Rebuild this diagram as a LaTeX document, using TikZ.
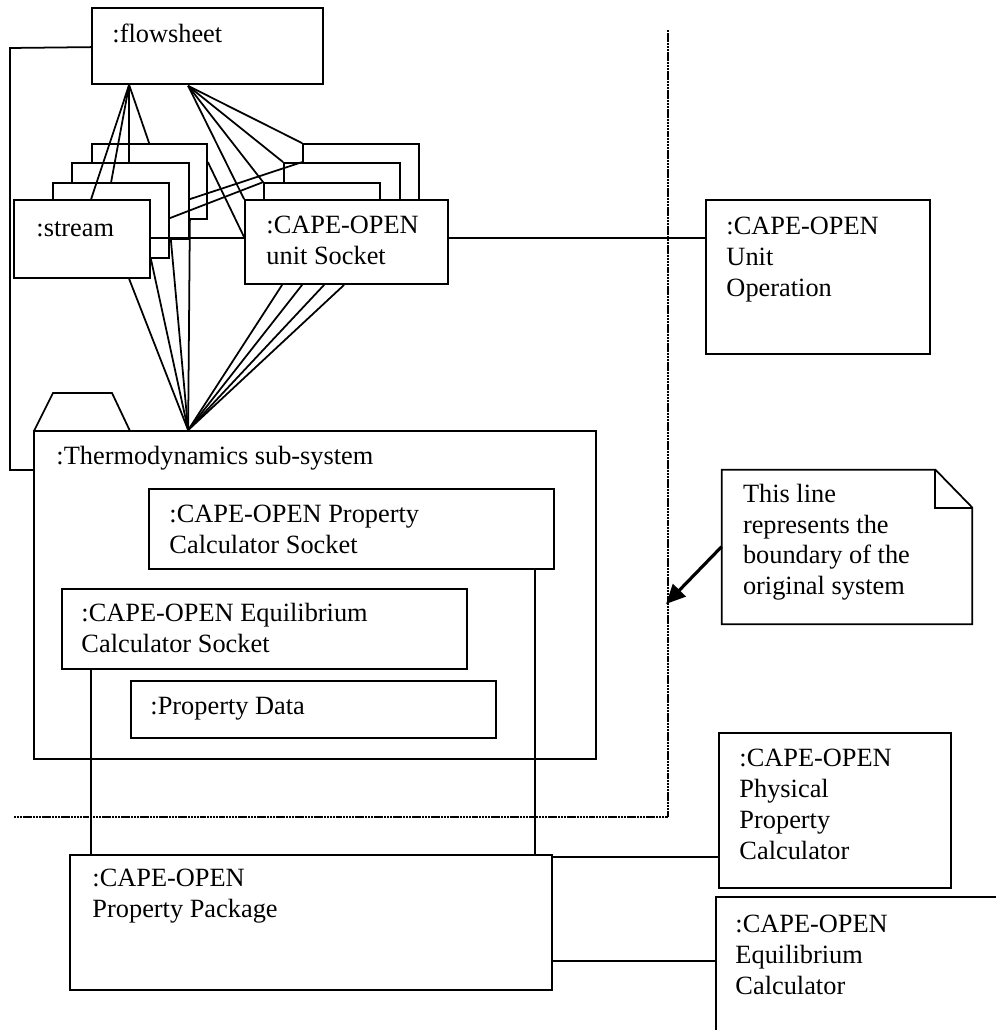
\documentclass[tikz,border=0pt]{standalone}
\usepackage{fontspec}
\setmainfont{Liberation Serif}
\usetikzlibrary{arrows.meta,positioning,fit,calc}

\begin{document}
\begin{tikzpicture}[x=0.02cm, y=-0.02cm,
  obj/.style={draw, line width=1pt, fill=white, inner sep=0pt},
  lbl/.style={anchor=base west, inner sep=0pt, align=left,
    font=\fontsize{15}{17.5}\selectfont},
  link/.style={line width=1pt},
  bound/.style={line width=1.6pt, dash pattern=on 1.4pt off 0.4pt}]
  \useasboundingbox (0,0) rectangle (996,1030);
  \clip (0,0) rectangle (996,1030);

  % flowsheet and the stacked streams / unit sockets
  \node[obj, fit={(92,8) (323,84)}] (flow) {};
  \node[lbl] (flowtxt) at ($(flow.north west)+(21,35)$) {:flowsheet};

  \node[obj, fit={(92,144) (207,219)}]  (s4) {};
  \node[obj, fit={(72,163) (189,239)}]  (s3) {};
  \node[obj, fit={(53,183) (169,258)}]  (s2) {};
  \node[obj, fit={(14,200) (150,278)}]  (s1) {};
  \node[lbl] (s1txt) at ($(s1.north west)+(23,37)$) {:stream};

  \node[obj, fit={(303,144) (419,224)}] (k4) {};
  \node[obj, fit={(284,163) (400,243)}] (k3) {};
  \node[obj, fit={(264,183) (380,263)}] (k2) {};
  \node[obj, fit={(245,200) (448,284)}] (k1) {};
  \node[lbl] (k1txt) at ($(k1.north west)+(22,65)$) {:CAPE-OPEN\\unit Socket};

  \node[obj, fit={(706,200) (930,354)}] (unitop) {};
  \node[lbl] (unitoptxt) at ($(unitop.north west)+(21,97)$) {:CAPE-OPEN\\Unit\\Operation};

  % thermodynamics package
  \draw[link] (34,431) -- (53,393) -- (112,393) -- (130,431);
  \node[obj, fit={(34,431) (596,759)}] (pkg) {};
  \node[lbl] (pkgtxt) at ($(pkg.north west)+(23,34)$) {:Thermodynamics sub-system};
  \node[obj, fit={(149,489) (554,569)}] (pcs) {};
  \node[lbl] (pcstxt) at ($(pcs.north west)+(21,65)$) {:CAPE-OPEN Property\\Calculator Socket};
  \node[obj, fit={(62,589) (467,669)}] (ecs) {};
  \node[lbl] (ecstxt) at ($(ecs.north west)+(20,64)$) {:CAPE-OPEN Equilibrium\\Calculator Socket};
  \node[obj, fit={(131,681) (496,738)}] (pdata) {};
  \node[lbl] (pdatatxt) at ($(pdata.north west)+(20,34)$) {:Property Data};

  % property package and calculators
  \node[obj, fit={(70,855) (552,990)}] (ppk) {};
  \node[lbl] (ppktxt) at ($(ppk.north west)+(23,63)$) {:CAPE-OPEN\\Property Package};
  \node[obj, fit={(719,733) (951,888)}] (phys) {};
  \node[lbl] (physTxt) at ($(phys.north west)+(21,127)$) {:CAPE-OPEN\\Physical\\Property\\Calculator};
  \node[obj, fit={(716,897) (1020,1060)}] (eqc) {};
  \node[lbl] (eqctxt) at ($(eqc.north west)+(20,98)$) {:CAPE-OPEN\\Equilibrium\\Calculator};

  % note
  \node[fit={(722,470) (972,624)}, inner sep=0pt] (note) {};
  \draw[link] (note.north west) -- ($(note.north east)+(-37,0)$)
    -- ($(note.north east)+(0,38)$) -- (note.south east) -- (note.south west) -- cycle;
  \draw[link] ($(note.north east)+(-37,0)$) |- ($(note.north east)+(0,38)$);
  \node[lbl] (notetxt) at ($(note.north west)+(21,125)$)
    {This line\\represents the\\boundary of the\\original system};

  % boundary of the original system
  \coordinate (btop) at (668,30);
  \coordinate (bcorner) at (668,817);
  \coordinate (bleft) at (13,817);
  \coordinate (btip) at (666,604);
  \draw[bound] (btop) -- (bcorner) -- (bleft);
  \draw[-{Triangle[length=11pt,width=10pt]}, line width=1.8pt]
    ($(note.north west)+(0,77)$) -- (btip);

  % links flowsheet - streams
  \coordinate (fa) at ($(flow.south west)+(38,0)$);
  \draw[link] (fa) -- ($(s1.north west)+(78,0)$);
  \draw[link] (fa) -- ($(s2.north west)+(59,0)$);
  \draw[link] (fa) -- ($(s3.north west)+(58,0)$);
  \draw[link] (fa) -- ($(s4.north west)+(58,0)$);
  % links flowsheet - sockets
  \coordinate (fb) at ($(flow.south west)+(97,1)$);
  \foreach \k in {k1,k2,k3,k4}
    \draw[link] (fb) -- (\k.north west);
  % links streams - sockets
  \draw[link] ($(s4.north east)+(0,19)$) -- ($(k1.north west)+(0,38)$);
  \draw[link] ($(s3.north east)+(0,37)$) -- ($(k4.north west)+(0,19)$);
  \draw[link] ($(s2.north east)+(0,36)$) -- (k2.north west);
  \draw[link] ($(s1.north east)+(0,39)$) -- ($(k1.north west)+(0,39)$);
  \draw[link] ($(k1.north east)+(0,39)$) -- ($(unitop.north west)+(0,39)$);
  % links to the thermodynamics package
  \coordinate (pt) at ($(pkg.north west)+(155,0)$);
  \draw[link] ($(s1.south west)+(116,0)$) -- (pt);
  \draw[link] (s2.south west -| s1.east) -- (pt);
  \draw[link] ($(s3.south east)+(-19,0)$) -- (pt);
  \draw[link] (s4.south west -| s3.east) -- (pt);
  \foreach \dx in {38,58,80,100}
    \draw[link] ($(k1.south west)+(\dx,0)$) -- (pt);
  \draw[link] ($(flow.north west)+(0,40)$) -- (10,48) -- (10,470) -- (pkg.west |- 0,470);
  % links to the property package
  \draw[link] ($(ecs.south west)+(30,0)$) coordinate (e1) -- (e1 |- ppk.north);
  \draw[link] ($(pcs.south east)+(-20,0)$) coordinate (p1) -- (p1 |- ppk.north);
  \draw[link] ($(ppk.north east)+(0,3)$) -- ($(phys.north west)+(0,125)$);
  \draw[link] ($(ppk.north east)+(0,107)$) -- ($(eqc.north west)+(0,65)$);
\end{tikzpicture}
\end{document}
